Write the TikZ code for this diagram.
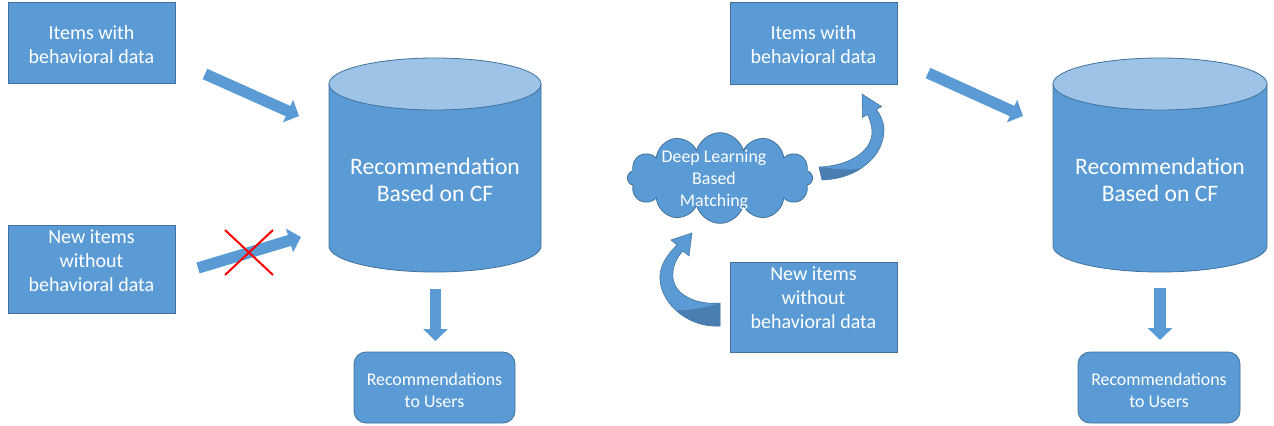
\documentclass[tikz,border=0pt]{standalone}
\usepackage{fontspec}
\setmainfont{Carlito}
\usetikzlibrary{arrows.meta,shapes.symbols}
\definecolor{boxblue}{HTML}{5B9BD5}
\definecolor{edgeblue}{HTML}{41719C}
\definecolor{topblue}{HTML}{9DC3E6}
\definecolor{shadeblue}{HTML}{4A7DB0}
\begin{document}
\begin{tikzpicture}[x=0.75pt,y=-0.75pt,
  box/.style={draw=edgeblue, line width=0.6pt, fill=boxblue, inner sep=0pt},
  boxtext/.style={text=white, inner sep=0pt, align=center, font=\fontsize{15}{18}\selectfont},
  recbox/.style={box, rounded corners=9pt},
  rectext/.style={boxtext, font=\fontsize{13.4}{16.3}\selectfont},
  blk/.style={boxblue, line width=8.5pt, -{Triangle[length=9pt,width=18pt]}},
  cross/.style={red, line width=1.5pt},
  cylbody/.style={fill=boxblue, draw=edgeblue, line width=0.6pt},
  cyltop/.style={fill=topblue, draw=edgeblue, line width=0.6pt},
  cyltext/.style={text=white, align=center, inner sep=0pt, font=\fontsize{17.7}{20.5}\selectfont},
  curved/.style={fill=boxblue, draw=edgeblue, line width=0.4pt},
  curvedshade/.style={fill=shadeblue},
]
\useasboundingbox (0,0) rectangle (1274,425);

% ---------- left half ----------
\node[box, minimum width=125.25pt, minimum height=60.75pt] (b1) at (91.5,43) {};
\node[boxtext] (b1t) at (91.5,45) {Items with\\behavioral data};
\node[box, minimum width=125.25pt, minimum height=66pt] (b2) at (91.5,269) {};
\node[boxtext] (b2t) at (91.5,261) {New items\\without\\behavioral data};

\filldraw[cylbody] (329,84) -- (329,246) arc[start angle=180, end angle=360, x radius=79.5pt, y radius=19.5pt] -- (541,84) -- cycle;
\filldraw[cyltop] (435,84) ellipse [x radius=79.5pt, y radius=19.5pt];
\node[cyltext] (c1) at (435,180) {Recommendation\\Based on CF};

\node[recbox, minimum width=120.75pt, minimum height=53.25pt] (r1) at (434.5,387.5) {};
\node[rectext] (r1t) at (434.5,390) {Recommendations\\to Users};

\coordinate (a1s) at (205,74);
\coordinate (a1e) at (299,116);
\draw[blk] (a1s) -- (a1e);

\coordinate (a2s) at (198,268);
\coordinate (a2e) at (301,237);
\draw[blk] (a2s) -- (a2e);

\coordinate (x1a) at (225,230);
\coordinate (x1b) at (273,275);
\coordinate (x2a) at (273,230);
\coordinate (x2b) at (225,275);
\draw[cross] (x1a) -- (x1b);
\draw[cross] (x2a) -- (x2b);

\coordinate (d1s) at (435.5,289);
\coordinate (d1e) at (435.5,341);
\draw[blk] (d1s) -- (d1e);

% ---------- right half ----------
\node[box, minimum width=125.25pt, minimum height=61.5pt] (b3) at (813.5,43) {};
\node[boxtext] (b3t) at (813.5,45) {Items with\\behavioral data};
\node[box, minimum width=125.25pt, minimum height=67.5pt] (b4) at (813.5,307) {};
\node[boxtext] (b4t) at (813.5,297.5) {New items\\without\\behavioral data};

\node[cloud, cloud puffs=12, cloud ignores aspect, minimum width=139pt, minimum height=68pt, inner sep=0pt, fill=boxblue, draw=edgeblue, line width=0.6pt] (cloud) at (720,178) {};
\node[text=white, align=center, inner sep=0pt, font=\fontsize{13.4}{16.3}\selectfont] (cloudtext) at (714,180) {Deep Learning\\Based\\Matching};

% curved arrow: cloud -> items with behavioral data
\filldraw[curved] (822,180) .. controls (860,178) and (885,155) .. (884,128)
  .. controls (883,120) and (880,114) .. (876.4,109.5)
  -- (881.6,106.6) -- (862,94) -- (862.4,117.4) -- (867.6,114.5)
  .. controls (870,120) and (872,126) .. (872,132)
  .. controls (872,152) and (848,166) .. (819,167) -- cycle;
\fill[curvedshade] (822,180) .. controls (838,180) and (852,175) .. (862,168)
  .. controls (848,171) and (835,169) .. (819,167) -- cycle;

% curved arrow: new items -> cloud
\filldraw[curved] (720,326) .. controls (685,328) and (658,300) .. (660,275)
  .. controls (661,262) and (670,252) .. (677,245)
  -- (671,240) -- (692,233) -- (689,256) -- (683,251)
  .. controls (676,258) and (672,268) .. (673,278)
  .. controls (675,296) and (698,305) .. (720,303) -- cycle;
\fill[curvedshade] (720,303) -- (720,326) .. controls (703,327) and (688,321) .. (676,310)
  .. controls (690,311) and (705,308) .. cycle;

\coordinate (a3s) at (928,73);
\coordinate (a3e) at (1023,116);
\draw[blk] (a3s) -- (a3e);

\filldraw[cylbody] (1053,84) -- (1053,246) arc[start angle=180, end angle=360, x radius=80.25pt, y radius=19.5pt] -- (1267,84) -- cycle;
\filldraw[cyltop] (1160,84) ellipse [x radius=80.25pt, y radius=19.5pt];
\node[cyltext] (c2) at (1160,180) {Recommendation\\Based on CF};

\coordinate (d2s) at (1160,288);
\coordinate (d2e) at (1160,340);
\draw[blk] (d2s) -- (d2e);

\node[recbox, minimum width=121.5pt, minimum height=53.25pt] (r2) at (1159,387.5) {};
\node[rectext] (r2t) at (1159,390) {Recommendations\\to Users};

\end{tikzpicture}
\end{document}
